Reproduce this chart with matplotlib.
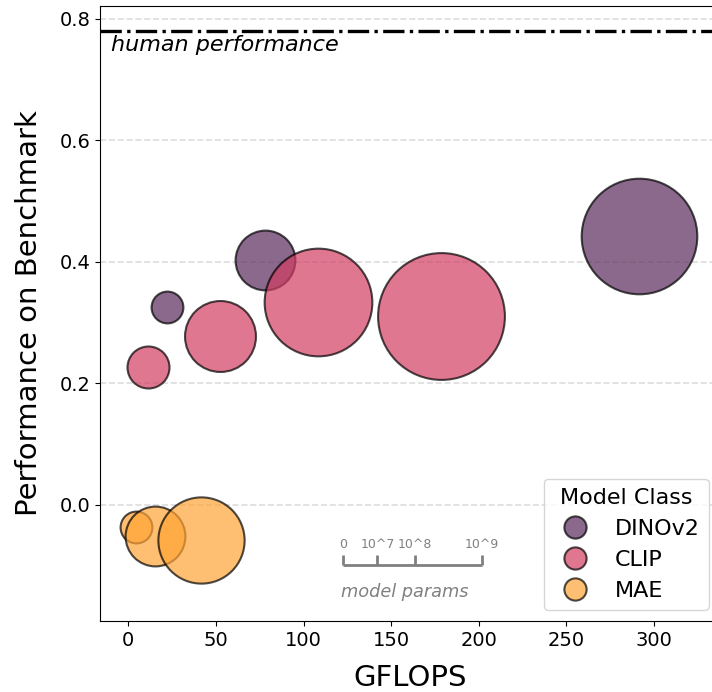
import matplotlib
matplotlib.use("Agg")
import matplotlib.pyplot as plt
from matplotlib.lines import Line2D

classes = ["DINOv2", "CLIP", "MAE"]
colors = ["#5a2a5b", "#d23d63", "#ffa436"]

# GFLOPS, benchmark score, model params (millions)
dino_gflops = [22.1, 78.0, 291.6]
dino_perf = [0.326, 0.403, 0.443]
dino_params = [86, 304, 1136]

clip_gflops = [11.4, 52.1, 108.2, 178.4]
clip_perf = [0.226, 0.277, 0.333, 0.311]
clip_params = [150, 428, 986, 1367]

mae_gflops = [4.6, 15.3, 41.2]
mae_perf = [-0.037, -0.052, -0.058]
mae_params = [86, 304, 632]

human_perf = 0.78
scale_labels = ["0", "10^7", "10^8", "10^9"]

SIZE_K = 6.1  # pt^2 per million params

fig = plt.figure(figsize=(7.12, 6.92), dpi=100)
# right edge of the axes runs slightly past the canvas, as in the original crop
ax = fig.add_axes([0.1404, 0.1026, 0.8708, 0.8887])

groups = [(dino_gflops, dino_perf, dino_params),
          (clip_gflops, clip_perf, clip_params),
          (mae_gflops, mae_perf, mae_params)]
for (gx, gy, gp), c in zip(groups, colors):
    for x, y, p in zip(gx, gy, gp):
        ax.scatter(x, y, s=p * SIZE_K, color=c, alpha=0.7, edgecolors="black",
                   linewidths=1.5, zorder=3)

ax.axhline(human_perf, color="black", ls="-.", lw=2.4, zorder=2)
ax.text(-10, human_perf - 0.007, "human performance", style="italic",
        fontsize=16, va="top", ha="left")

ax.set_xlim(-16.2, 337.7)
ax.set_ylim(-0.191, 0.8206)
ax.set_yticks([0.0, 0.2, 0.4, 0.6, 0.8])
ax.set_xticks([0, 50, 100, 150, 200, 250, 300])
ax.tick_params(labelsize=14)
ax.yaxis.grid(True, ls="--", color="#dddddd", lw=1.2, zorder=0)
ax.set_axisbelow(True)
ax.set_xlabel("GFLOPS", fontsize=21, labelpad=10)
ax.set_ylabel("Performance on Benchmark", fontsize=21, labelpad=12)

# scale bar for bubble sizes (axes fractions)
tick_x = [0.3915, 0.4475, 0.5075, 0.6165]
ax.plot([tick_x[0], tick_x[-1]], [0.091, 0.091], color="gray", lw=2,
        transform=ax.transAxes, clip_on=False, solid_capstyle="butt")
for tx, lab in zip(tick_x, scale_labels):
    ax.plot([tx, tx], [0.091, 0.108], color="gray", lw=2,
            transform=ax.transAxes, clip_on=False, solid_capstyle="butt")
    ax.text(tx, 0.124, lab, color="gray", fontsize=9, ha="center", va="center",
            transform=ax.transAxes)
ax.text(0.4915, 0.047, "model params", color="gray", style="italic", fontsize=12.8,
        ha="center", va="center", transform=ax.transAxes)

handles = [Line2D([], [], ls="none", marker="o", markersize=16, markerfacecolor=c,
                  markeredgecolor="black", markeredgewidth=1.5, alpha=0.7)
           for c in colors]
ax.legend(handles, classes, title="Model Class", loc="lower right",
          fontsize=16, title_fontsize=16)

plt.savefig("out.png", dpi=100)
